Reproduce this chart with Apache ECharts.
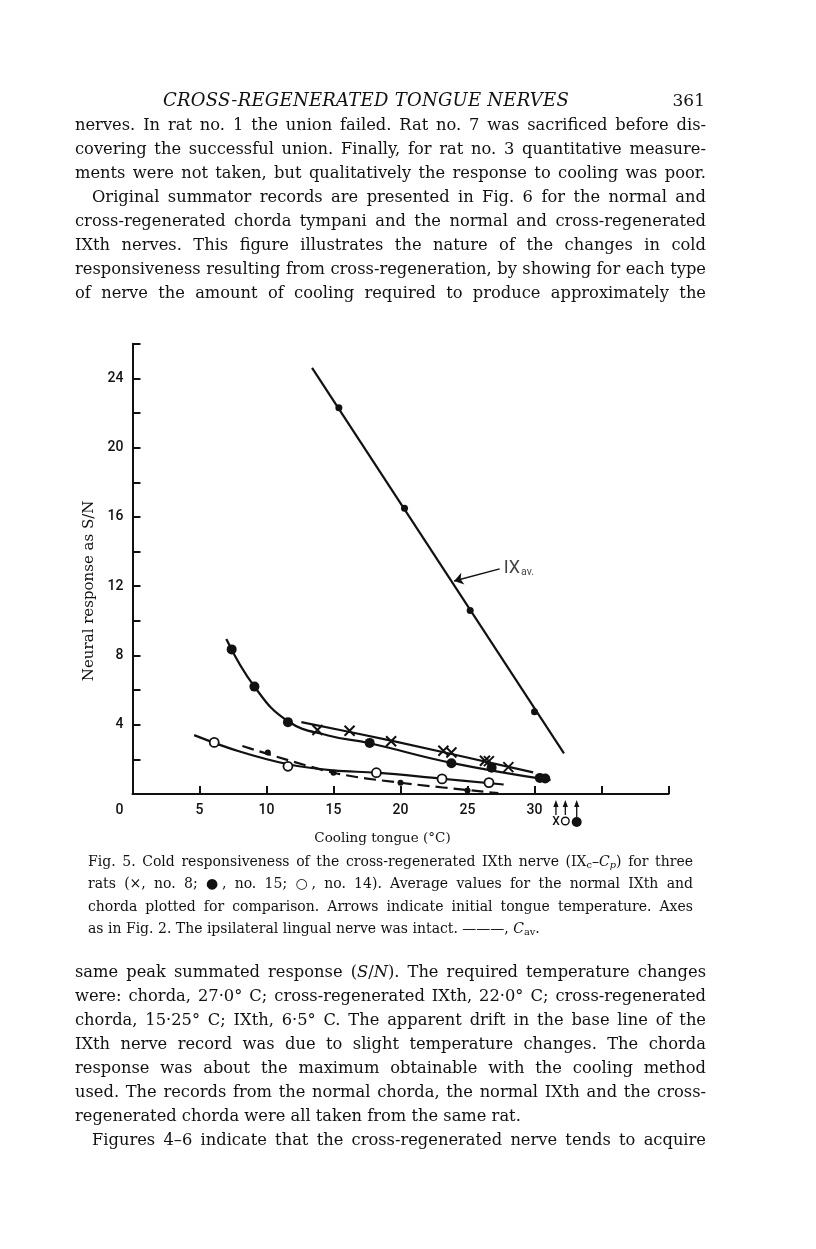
<!DOCTYPE html>
<html><head><meta charset="utf-8">
<script src="https://cdn.jsdelivr.net/npm/echarts@6/dist/echarts.min.js"></script>
<style>
html,body{margin:0;padding:0;background:#fff;}
#page{position:relative;width:816px;height:1249px;overflow:hidden;background:#fff;}
#chart{position:absolute;left:0;top:0;width:816px;height:1249px;z-index:1;}
.txt{position:absolute;font-family:'DejaVu Serif',serif;color:#111;z-index:2;}
.body{left:75px;width:631px;font-size:16.3px;line-height:24px;}
.body div{text-align:justify;text-align-last:justify;}
.body div.e{text-align:left;text-align-last:left;}
.body div.ind{text-indent:17px;}
.cap{left:88px;width:605px;font-size:14px;line-height:22.3px;}
.cap div{text-align:justify;text-align-last:justify;}
.cap div.e{text-align:left;text-align-last:left;}
sub{font-size:0.7em;vertical-align:-0.25em;line-height:0;}
</style></head>
<body><div id="page">
<div id="chart"></div>
<div class="txt" style="left:0;width:730px;top:88px;font-size:18px;line-height:24px;font-style:italic;">
  <span style="position:absolute;left:163px;top:0;white-space:nowrap;letter-spacing:0.25px;">CROSS-REGENERATED TONGUE NERVES</span>
  <span style="position:absolute;right:25px;top:0;font-style:normal;font-size:17px;">361</span>
</div>
<div class="txt body" style="top:113px;">
<div>nerves. In rat no. 1 the union failed. Rat no. 7 was sacrificed before dis-</div>
<div>covering the successful union. Finally, for rat no. 3 quantitative measure-</div>
<div>ments were not taken, but qualitatively the response to cooling was poor.</div>
<div class="ind">Original summator records are presented in Fig. 6 for the normal and</div>
<div>cross-regenerated chorda tympani and the normal and cross-regenerated</div>
<div>IXth nerves. This figure illustrates the nature of the changes in cold</div>
<div>responsiveness resulting from cross-regeneration, by showing for each type</div>
<div>of nerve the amount of cooling required to produce approximately the</div>
</div>
<div class="txt cap" style="top:850px;">
<div>Fig. 5. Cold responsiveness of the cross-regenerated IXth nerve (IX<sub>c</sub>–<i>C</i><sub><i>p</i></sub>) for three</div>
<div>rats (×, no. 8; ●, no. 15; ○, no. 14). Average values for the normal IXth and</div>
<div>chorda plotted for comparison. Arrows indicate initial tongue temperature. Axes</div>
<div class="e">as in Fig. 2. The ipsilateral lingual nerve was intact. ———, <i>C</i><sub>av</sub>.</div>
</div>
<div class="txt body" style="top:960px;">
<div>same peak summated response (<i>S</i>/<i>N</i>). The required temperature changes</div>
<div>were: chorda, 27·0° C; cross-regenerated IXth, 22·0° C; cross-regenerated</div>
<div>chorda, 15·25° C; IXth, 6·5° C. The apparent drift in the base line of the</div>
<div>IXth nerve record was due to slight temperature changes. The chorda</div>
<div>response was about the maximum obtainable with the cooling method</div>
<div>used. The records from the normal chorda, the normal IXth and the cross-</div>
<div class="e">regenerated chorda were all taken from the same rat.</div>
<div class="ind">Figures 4–6 indicate that the cross-regenerated nerve tends to acquire</div>
</div>
</div>
<script>
// ---- data (x: cooling of tongue, °C; y: S/N) ----
const xLabeled = [0, 5, 10, 15, 20, 25, 30];
const yLabeled = [4, 8, 12, 16, 20, 24];
const ixavLine = [[13.4, 24.6], [32.2, 2.35]];
const ixavPoints = [[15.4, 22.3], [20.3, 16.5], [25.2, 10.6], [30.0, 4.75]];
const ixavArrow = [[27.4, 13.0], [24.0, 12.3]];
const ixavLabelAt = [27.7, 13.0];
const rat15Curve = [[7.0, 8.95], [9.1, 6.2], [11.6, 4.2], [14.6, 3.38], [17.7, 2.93], [23.8, 1.8], [31.2, 0.8]];
const rat15Points = [[7.4, 8.35], [9.1, 6.2], [11.6, 4.15], [17.7, 2.95], [23.8, 1.78], [26.8, 1.52], [30.4, 0.93], [30.8, 0.9]];
const rat8Line = [[12.6, 4.15], [19.3, 3.08], [29.9, 1.25]];
const rat8Points = [[13.8, 3.7], [16.2, 3.65], [19.3, 3.05], [23.2, 2.5], [23.8, 2.4], [26.3, 1.92], [26.6, 1.9], [28.05, 1.55]];
const rat14Curve = [[4.6, 3.4], [8.0, 2.45], [11.6, 1.72], [15.0, 1.36], [18.2, 1.23], [23.1, 0.88], [27.7, 0.55]];
const rat14Points = [[6.1, 2.98], [11.6, 1.6], [18.2, 1.23], [23.1, 0.87], [26.6, 0.66]];
const cavLine = [[8.2, 2.77], [15.0, 1.23], [20.0, 0.65], [27.3, 0.05]];
const cavPoints = [[10.1, 2.4], [15.0, 1.23], [20.0, 0.65], [25.0, 0.2]];
const initialTemps = [31.6, 32.3, 33.15];   // arrows: rat 8 (×), rat 14 (○), rat 15 (●)
const initialKinds = [0, 1, 2];

const INK = '#111';
const chart = echarts.init(document.getElementById('chart'), null, {renderer: 'canvas'});
const lineBase = {type: 'line', showSymbol: false, symbol: 'none', silent: true, lineStyle: {color: INK, width: 2.2}, z: 3};
const ptBase = {type: 'scatter', silent: true, z: 5};
chart.setOption({
  animation: false,
  backgroundColor: 'transparent',
  grid: {left: 132.5, right: 147.5, top: 343.7, bottom: 455, containLabel: false},
  xAxis: {
    type: 'value', min: 0, max: 40, interval: 5,
    name: 'Cooling tongue (°C)', nameLocation: 'middle', nameGap: 37,
    nameTextStyle: {fontFamily: 'DejaVu Serif', fontSize: 13.5, color: INK, padding: [0, 36, 0, 0]},
    axisLine: {show: true, lineStyle: {color: INK, width: 2}},
    axisTick: {show: true, inside: true, length: 8, lineStyle: {color: INK, width: 2}},
    axisLabel: {
      margin: 9, color: INK, fontFamily: 'Roboto', fontWeight: 500, fontSize: 14,
      formatter: v => v === 0 ? '{z|0}' : (xLabeled.includes(v) ? String(v) : ''),
      rich: {z: {fontFamily: 'Roboto', fontWeight: 500, fontSize: 14, color: INK, padding: [0, 26, 0, 0]}}
    },
    splitLine: {show: false}
  },
  yAxis: {
    type: 'value', min: 0, max: 26, interval: 2,
    name: 'Neural response as S/N', nameLocation: 'middle', nameGap: 32, nameRotate: 90,
    nameTextStyle: {fontFamily: 'DejaVu Serif', fontSize: 15, color: INK, padding: [0, 44, 0, 0]},
    axisLine: {show: true, lineStyle: {color: INK, width: 2}},
    axisTick: {show: true, inside: true, length: 8, lineStyle: {color: INK, width: 2}},
    axisLabel: {
      margin: 9, color: INK, fontFamily: 'Roboto', fontWeight: 500, fontSize: 14,
      formatter: v => yLabeled.includes(v) ? String(v) : ''
    },
    splitLine: {show: false}
  },
  series: [
    Object.assign({}, lineBase, {name: 'IXav line', data: ixavLine,
      markLine: {silent: true, symbol: ['none', 'arrow'], symbolSize: 9, label: {show: false},
        lineStyle: {color: INK, width: 1.5, type: 'solid'},
        data: [[{coord: ixavArrow[0]}, {coord: ixavArrow[1]}]]}}),
    Object.assign({}, lineBase, {name: 'rat 15 curve', data: rat15Curve, smooth: 0.45}),
    Object.assign({}, lineBase, {name: 'rat 8 line', data: rat8Line, smooth: 0.3}),
    Object.assign({}, lineBase, {name: 'rat 14 curve', data: rat14Curve, smooth: 0.4}),
    Object.assign({}, lineBase, {name: 'Cav', data: cavLine, smooth: 0.3,
      lineStyle: {color: INK, width: 2.2, type: [12, 6]}}),
    Object.assign({}, ptBase, {name: 'IXav pts', data: ixavPoints, symbol: 'circle', symbolSize: 7, itemStyle: {color: INK, opacity: 1}}),
    Object.assign({}, ptBase, {name: 'rat 15', data: rat15Points, symbol: 'circle', symbolSize: 10, itemStyle: {color: INK, opacity: 1}}),
    Object.assign({}, ptBase, {name: 'rat 8', data: rat8Points, symbol: 'path://M0,0L10,10M10,0L0,10', symbolSize: 10,
      itemStyle: {color: 'rgba(0,0,0,0)', borderColor: INK, borderWidth: 2, opacity: 1}}),
    Object.assign({}, ptBase, {name: 'rat 14', data: rat14Points, symbol: 'circle', symbolSize: 9,
      itemStyle: {color: '#fff', borderColor: INK, borderWidth: 1.8, opacity: 1}}),
    Object.assign({}, ptBase, {name: 'Cav pts', data: cavPoints, symbol: 'circle', symbolSize: 6, itemStyle: {color: INK, opacity: 1}}),
    Object.assign({}, ptBase, {name: 'IXav label', data: [ixavLabelAt], symbolSize: 0,
      label: {show: true, position: 'right', distance: 0, formatter: 'IX{s|av.}', color: INK,
        fontFamily: 'Roboto', fontSize: 18,
        rich: {s: {fontFamily: 'Roboto', fontSize: 10.5, color: INK, verticalAlign: 'bottom', padding: [8, 0, 0, 1]}}}}),
    {
      type: 'custom', name: 'initial temps', silent: true, clip: false, z: 6,
      data: initialTemps.map((t, i) => [t, initialKinds[i]]),
      renderItem: function (params, api) {
        const p = api.coord([api.value(0), 0]);
        const k = api.value(1);
        const x = p[0], y0 = p[1];
        const tip = y0 + 6;
        const end = k === 2 ? y0 + 23 : y0 + 21;
        const ch = [
          {type: 'polygon', shape: {points: [[x, tip], [x - 2.6, tip + 7], [x + 2.6, tip + 7]]}, style: {fill: INK}},
          {type: 'line', shape: {x1: x, y1: tip + 4, x2: x, y2: end}, style: {stroke: INK, lineWidth: 1.3}}
        ];
        if (k === 0) ch.push({type: 'text', style: {text: 'X', x: x, y: y0 + 28, align: 'center', verticalAlign: 'middle', font: '500 12px Roboto', fill: INK}});
        if (k === 1) ch.push({type: 'circle', shape: {cx: x, cy: y0 + 27, r: 3.8}, style: {fill: '#fff', stroke: INK, lineWidth: 1.4}});
        if (k === 2) ch.push({type: 'circle', shape: {cx: x, cy: y0 + 28, r: 5}, style: {fill: INK}});
        return {type: 'group', children: ch};
      }
    }
  ]
});
</script>
</body></html>
